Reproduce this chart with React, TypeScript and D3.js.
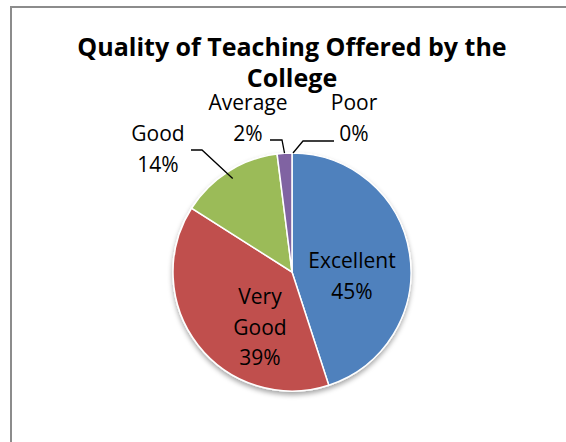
import React, { useEffect, useRef } from 'react';
import * as d3 from 'd3';

const CATEGORIES = ['Excellent', 'Very Good', 'Good', 'Average', 'Poor'];
const VALUES = [45, 39, 14, 2, 0];
const COLORS = ['#4f81bd', '#c0504d', '#9bbb59', '#8064a2', '#4bacc6'];
const TITLE_LINES = ['Quality of Teaching Offered by the', 'College'];

const W = 566;
const H = 442;

const App: React.FC = () => {
  const svgRef = useRef<SVGSVGElement>(null);

  useEffect(() => {
    if (!svgRef.current) return;
    const svg = d3.select(svgRef.current);
    svg.selectAll('*').remove();

    const font = '"Open Sans", Calibri, sans-serif';
    const cx = 292;
    const cy = 272;
    const r = 119;

    // chart frame (right and bottom edges run past the picture)
    svg.append('rect')
      .attr('x', 11).attr('y', 7)
      .attr('width', W + 20).attr('height', H + 20)
      .attr('fill', '#fff')
      .attr('stroke', '#8c8c8c')
      .attr('stroke-width', 2);

    const defs = svg.append('defs');
    const shadow = defs.append('filter').attr('id', 'pie-shadow')
      .attr('x', '-20%').attr('y', '-20%').attr('width', '140%').attr('height', '140%');
    shadow.append('feDropShadow')
      .attr('dx', 0).attr('dy', 3).attr('stdDeviation', 2.5)
      .attr('flood-color', '#000').attr('flood-opacity', 0.35);

    // title
    svg.append('text')
      .attr('x', cx).attr('text-anchor', 'middle')
      .attr('font-family', font).attr('font-weight', 700).attr('font-size', 25)
      .attr('fill', '#000')
      .selectAll('tspan')
      .data(TITLE_LINES)
      .join('tspan')
      .attr('x', cx)
      .attr('y', (_, i) => 56 + i * 31)
      .text(d => d);

    const data = CATEGORIES.map((c, i) => ({ name: c, value: VALUES[i], color: COLORS[i] }));
    const pie = d3.pie<any>().sort(null).value(d => d.value);
    const arcs = pie(data);
    const arc = d3.arc<any>().innerRadius(0).outerRadius(r);

    const g = svg.append('g').attr('transform', `translate(${cx},${cy})`);
    g.append('g').attr('filter', 'url(#pie-shadow)')
      .selectAll('path')
      .data(arcs)
      .join('path')
      .attr('d', arc)
      .attr('fill', d => d.data.color)
      .attr('stroke', '#fff')
      .attr('stroke-width', d => (d.data.value > 0 ? 1.5 : 0));

    const pct = (v: number) => `${Math.round(v)}%`;
    const edge = (a: any, k = 1) => {
      const m = (a.startAngle + a.endAngle) / 2;
      return [Math.sin(m) * r * k, -Math.cos(m) * r * k];
    };

    const label = (lines: string[], x: number, y: number) => {
      svg.append('text')
        .attr('text-anchor', 'middle')
        .attr('font-family', font).attr('font-size', 21)
        .attr('fill', '#000')
        .selectAll('tspan')
        .data(lines)
        .join('tspan')
        .attr('x', x)
        .attr('y', (_, i) => y + i * 30.5)
        .text(d => d);
    };

    // inside labels
    label([CATEGORIES[0], pct(VALUES[0])], 352, 268);
    label(['Very', 'Good', pct(VALUES[1])], 260, 304);

    // outside labels with leaders
    label([CATEGORIES[2], pct(VALUES[2])], 158, 141);
    label([CATEGORIES[3], pct(VALUES[3])], 248, 110);
    label([CATEGORIES[4], pct(VALUES[4])], 354, 110);

    const leader = (pts: number[][]) => {
      svg.append('path')
        .attr('d', d3.line()(pts as [number, number][]))
        .attr('fill', 'none')
        .attr('stroke', '#000')
        .attr('stroke-width', 1.3);
    };
    const [gx, gy] = edge(arcs[2], 0.93);
    leader([[191, 150], [202, 150], [cx + gx, cy + gy]]);
    const [ax, ay] = edge(arcs[3], 1.0);
    leader([[270, 140], [282, 140], [cx + ax, cy + ay]]);
    const [px, py] = edge(arcs[4], 1.0);
    leader([[cx + px + 1, cy + py], [303, 141], [334, 141]]);
  }, []);

  return (
    <svg
      ref={svgRef}
      width={W}
      height={H}
      style={{ position: 'absolute', left: 0, top: 0, background: '#fff' }}
    />
  );
};

export default App;
